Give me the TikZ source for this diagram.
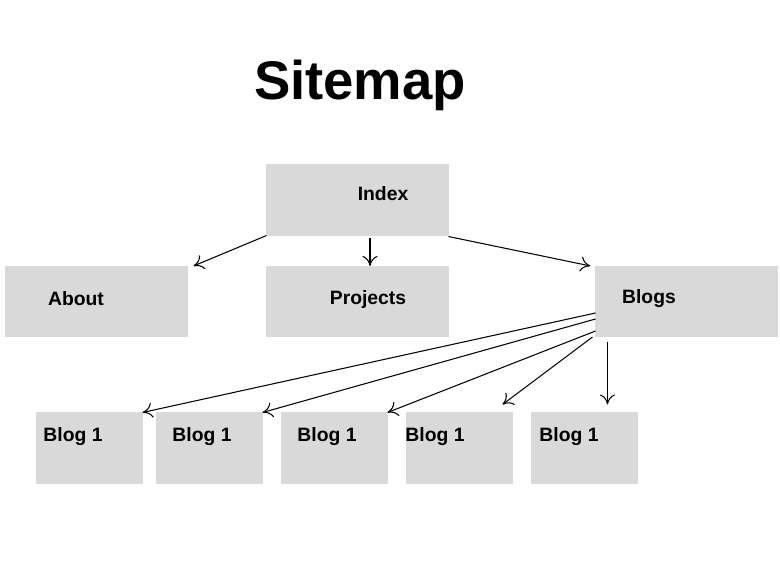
\documentclass[tikz,border=0pt]{standalone}
\usepackage{fontspec}
\setmainfont{Liberation Sans}
\usetikzlibrary{arrows.meta, positioning, calc}
\definecolor{cbox}{HTML}{D9D9D9}
\tikzset{
  every picture/.style={line width=0.6pt},
  page/.style={draw=cbox, fill=cbox, minimum width=3.62cm, minimum height=1.4cm, inner sep=0pt},
  post/.style={draw=cbox, fill=cbox, minimum width=2.1cm, minimum height=1.4cm, inner sep=0pt},
  lbl/.style={font=\fontsize{11}{13}\selectfont\bfseries, inner sep=0pt},
  arrow/.style={-{To[length=2mm, width=3mm]}, draw=black},
  title/.style={font=\fontsize{31}{36}\selectfont\bfseries},
}

\begin{document}
\begin{tikzpicture}
  \useasboundingbox (0,0) rectangle (15.6,-11.26);
  \node[title] (head) at (7.2,-1.7) {Sitemap};
  % pages
  \node[page] (index) at (7.15,-4.0) {};
  \node[page] (about) at (1.93,-6.03) {};
  \node[page] (projects) at (7.15,-6.03) {};
  \node[page] (blogs) at (13.73,-6.03) {};
  \node[lbl] (tindex) at (7.66,-3.88) {Index};
  \node[lbl] (tabout) at (1.52,-5.97) {About};
  \node[lbl] (tprojects) at (7.36,-5.99) {Projects};
  \node[lbl] (tblogs) at (12.98,-5.98) {Blogs};
  % blog posts
  \node[post] (b1) at (1.79,-8.96) {};
  \node[post] (b2) at (4.19,-8.96) {};
  \node[post] (b3) at (6.69,-8.96) {};
  \node[post] (b4) at (9.19,-8.96) {};
  \node[post] (b5) at (11.69,-8.96) {};
  \node[lbl] (tb1) at (1.46,-8.74) {Blog 1};
  \node[lbl] (tb2) at (4.04,-8.74) {Blog 1};
  \node[lbl] (tb3) at (6.54,-8.74) {Blog 1};
  \node[lbl] (tb4) at (8.70,-8.74) {Blog 1};
  \node[lbl] (tb5) at (11.38,-8.74) {Blog 1};
  % links
  \draw[arrow] (index.south west) -- ([xshift=0.12cm]about.north east);
  \draw[arrow] ([xshift=0.25cm,yshift=-0.04cm]index.south) -- ([xshift=0.25cm]projects.north);
  \draw[arrow] ([yshift=-0.02cm]index.south east) -- ([xshift=-0.1cm]blogs.north west);
  \draw[arrow] ([yshift=-0.23cm]blogs.west) -- (b1.north east);
  \draw[arrow] ([yshift=-0.35cm]blogs.west) -- (b2.north east);
  \draw[arrow] ([yshift=-0.59cm]blogs.west) -- (b3.north east);
  \draw[arrow] ([xshift=-0.06cm]blogs.south west) -- ([xshift=-0.2cm,yshift=0.16cm]b4.north east);
  \draw[arrow] ([xshift=0.24cm,yshift=-0.1cm]blogs.south west) -- ([xshift=0.24cm,yshift=0.16cm]blogs.south west |- b5.north);
\end{tikzpicture}
\end{document}
